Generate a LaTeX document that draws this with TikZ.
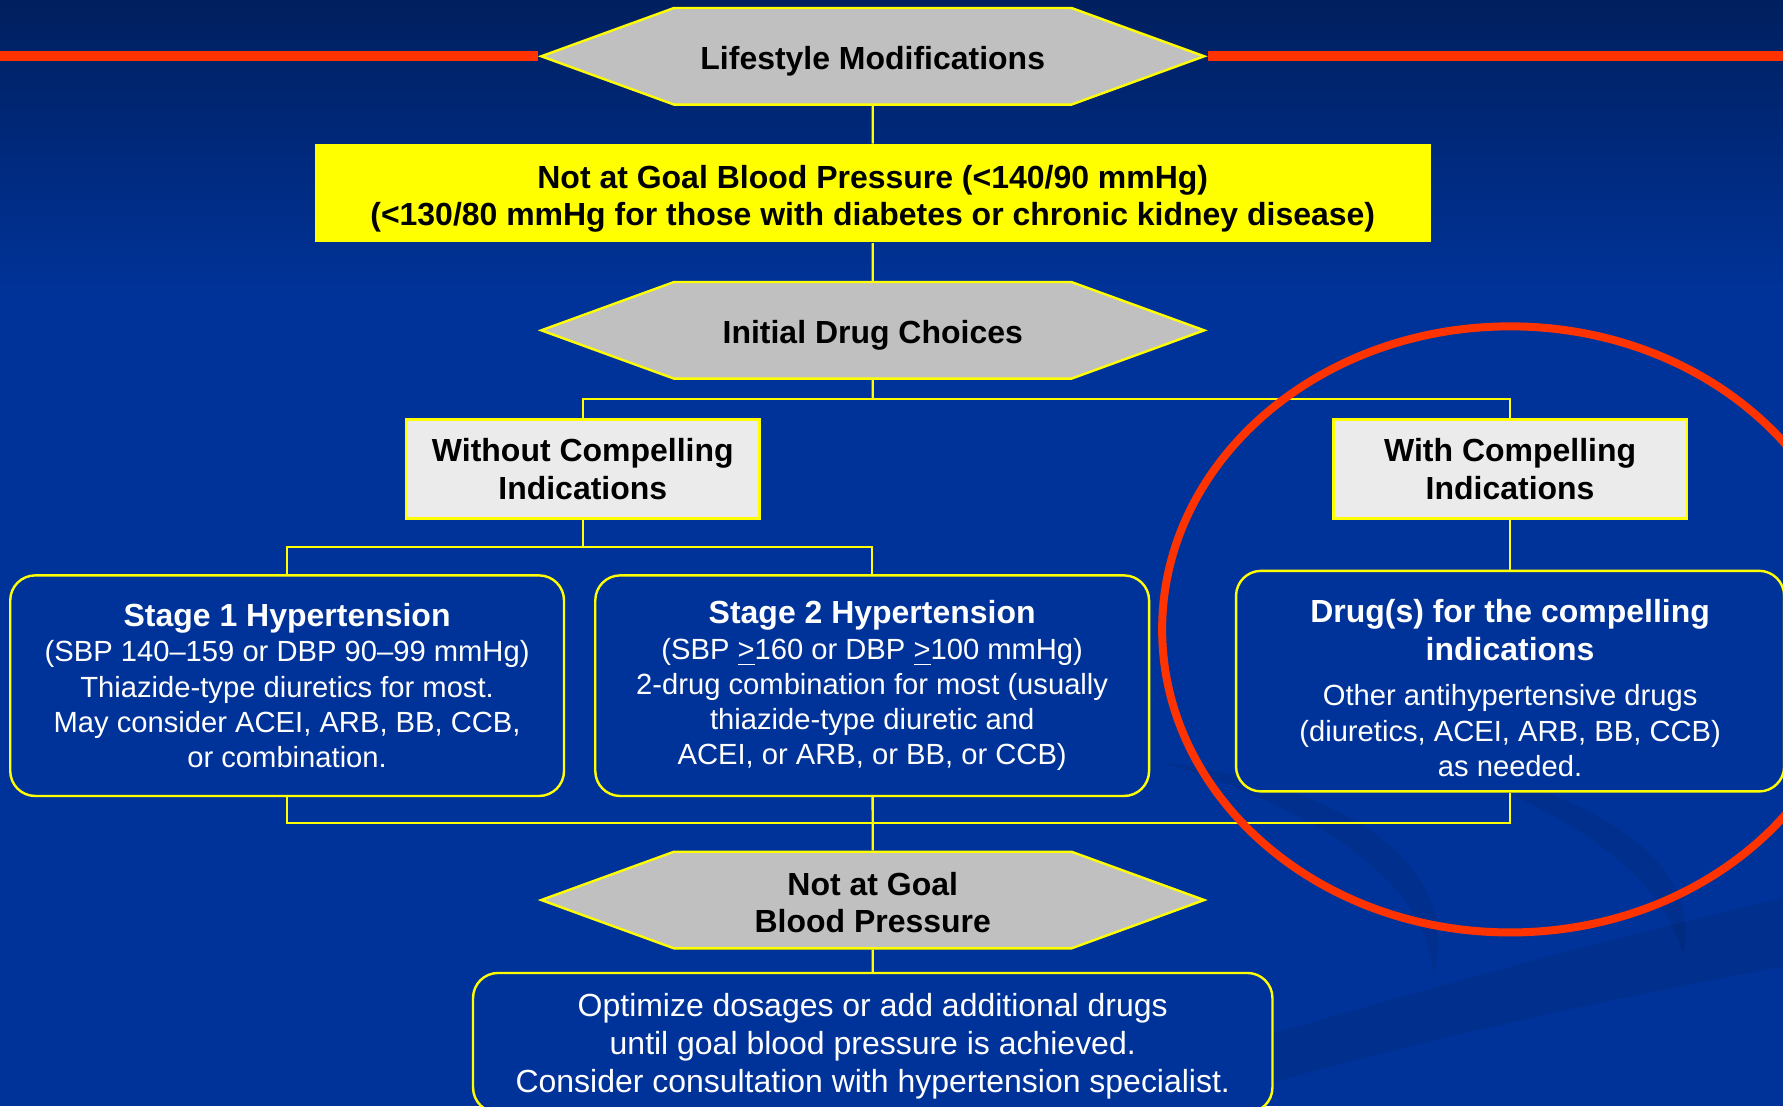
\documentclass[tikz,border=0pt]{standalone}
\usepackage{fontspec}
\setmainfont{Liberation Sans}
\usetikzlibrary{shapes.symbols}

\definecolor{slideblue}{HTML}{003399}
\definecolor{slidenavy}{HTML}{001F5E}
\definecolor{hexgray}{HTML}{C0C0C0}
\definecolor{boxgray}{HTML}{EBEBEB}
\definecolor{ringred}{HTML}{FF3300}
\definecolor{linkyellow}{HTML}{FFFF00}

\newcommand{\titlefnt}{\fontsize{8}{9.4}\selectfont\bfseries}
\newcommand{\bodyfnt}{\fontsize{7.3}{8.8}\selectfont}
\newcommand{\notefnt}{\fontsize{8}{9.5}\selectfont}
\newcommand{\padtop}[1]{\rule{0pt}{#1}}

\begin{document}
\begin{tikzpicture}[
    hexa/.style={shape=signal, signal to=west and east, signal pointer angle=40,
        fill=hexgray, draw=linkyellow, line width=0.6pt, minimum width=5.83cm,
        minimum height=0.85cm, inner sep=0pt, align=center, font=\titlefnt},
    goalbox/.style={rectangle, fill=linkyellow, minimum width=9.81cm,
        minimum height=0.86cm, inner ysep=1pt, align=center, font=\titlefnt},
    choice/.style={rectangle, fill=boxgray, draw=linkyellow, line width=0.7pt,
        minimum width=3.11cm, minimum height=0.87cm, align=center, font=\titlefnt},
    stagebox/.style={rectangle, rounded corners=0.22cm, fill=slideblue,
        draw=linkyellow, line width=0.6pt, minimum width=4.87cm,
        minimum height=1.94cm, align=center, text=white, font=\bodyfnt},
    link/.style={draw=linkyellow, line width=0.6pt},
    redbar/.style={draw=ringred, line width=2.5pt},
    ring/.style={draw=ringred, line width=2pt},
    swoosh/.style={fill=black, opacity=0.08}
]
\useasboundingbox (0,0) rectangle (15.68,-9.73);
\clip (0,0) rectangle (15.68,-9.73);

\fill[slideblue] (0,0) rectangle (15.68,-9.73);
\shade[top color=slidenavy, bottom color=slideblue] (0,0) rectangle (15.68,-2.6);
\fill[swoosh] (10.2,-6.7) .. controls (11.8,-6.9) and (12.9,-7.6) .. (12.6,-8.6)
    .. controls (12.6,-7.8) and (11.6,-7.1) .. (10.2,-6.7);
\fill[swoosh] (12.2,-6.6) .. controls (13.9,-6.9) and (15.0,-7.5) .. (14.8,-8.4)
    .. controls (14.6,-7.6) and (13.6,-7.0) .. (12.2,-6.6);
\fill[swoosh] (9.0,-9.73) .. controls (11.5,-9.0) and (13.5,-8.4) .. (15.68,-7.9)
    -- (15.68,-8.5) .. controls (13.5,-8.9) and (11.5,-9.4) .. (10.5,-9.73) -- cycle;

\node[hexa] (life) at (7.675,-0.495) {\padtop{8.2pt}Lifestyle Modifications};
\coordinate (edgeL) at (life.west -| 0,0);
\coordinate (edgeR) at (life.east -| 15.68,0);
\draw[redbar] (edgeL) -- (life.west);
\draw[redbar] (life.east) -- (edgeR);

\node[goalbox] (goal) at (7.675,-1.70) {\padtop{8.6pt}Not at Goal Blood Pressure (<140/90 mmHg)\\
    (<130/80 mmHg for those with diabetes or chronic kidney disease)};
\node[hexa] (init) at (7.675,-2.905) {\padtop{8.2pt}Initial Drug Choices};
\node[choice] (without) at (5.125,-4.125) {Without Compelling\\Indications};
\node[choice] (with) at (13.28,-4.125) {With Compelling\\Indications};

\node[stagebox] (stageA) at (2.525,-6.03) {{\titlefnt Stage 1 Hypertension}\\
    (SBP 140–159 or DBP 90–99 mmHg)\\Thiazide-type diuretics for most.\\
    May consider ACEI, ARB, BB, CCB,\\or combination.};
\node[stagebox] (stageB) at (7.67,-6.03) {{\titlefnt Stage 2 Hypertension}\\
    (SBP \underline{>}160 or DBP \underline{>}100 mmHg)\\
    2-drug combination for most (usually\\thiazide-type diuretic and\\
    ACEI, or ARB, or BB, or CCB)};
\node[stagebox, minimum width=4.82cm] (drugs) at (13.28,-5.99)
    {\padtop{9.3pt}{\titlefnt Drug(s) for the compelling}\\[0.6pt]{\titlefnt indications}\\[0.09cm]
    Other antihypertensive drugs\\(diuretics, ACEI, ARB, BB, CCB)\\as needed.};

\node[hexa] (notgoal) at (7.675,-7.915) {\padtop{7pt}Not at Goal\\Blood Pressure};
\node[stagebox, minimum width=7.03cm, minimum height=1.22cm, font=\notefnt]
    (final) at (7.675,-9.17) {\padtop{7.6pt}Optimize dosages or add additional drugs\\
    until goal blood pressure is achieved.\\
    Consider consultation with hypertension specialist.};

\coordinate (split) at (7.675,-3.51);
\coordinate (fork) at (5.125,-4.81);
\coordinate (join) at (7.675,-7.24);
\draw[link] (life) -- (goal);
\draw[link] (goal) -- (init);
\draw[link] (init) -- (split);
\draw[link] (without) |- (split) -| (with);
\draw[link] (without) -- (fork);
\draw[link] (stageA) |- (fork) -| (stageB);
\draw[link] (with) -- (drugs);
\draw[link] (stageA) |- (join) -| (drugs);
\draw[link] (stageB) -- (join) -- (notgoal);
\draw[link] (notgoal) -- (final);

\coordinate (ringc) at (13.28,-5.535);
\draw[ring] (ringc) ellipse [x radius=3.06, y radius=2.665];
\end{tikzpicture}
\end{document}
